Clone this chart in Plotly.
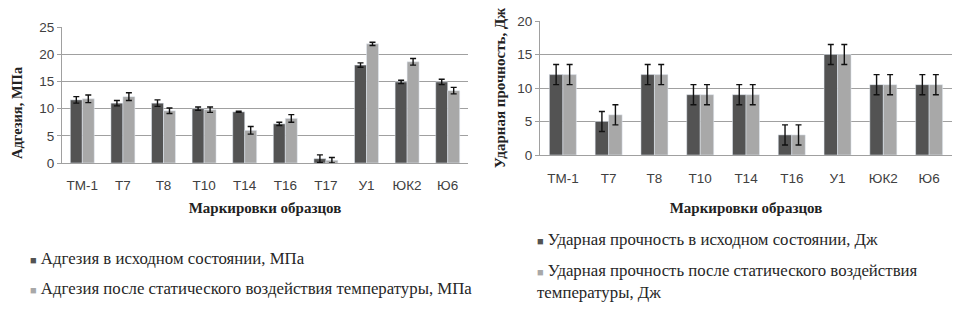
import plotly.graph_objects as go

# Left chart: adhesion
cats_a = ["ТМ-1", "Т7", "Т8", "Т10", "Т14", "Т16", "Т17", "У1", "ЮК2", "Ю6"]
adh_init = [11.6, 11.0, 11.0, 10.0, 9.4, 7.2, 0.8, 18.0, 14.9, 14.9]
adh_init_err = [0.6, 0.5, 0.6, 0.3, 0.1, 0.3, 0.7, 0.4, 0.3, 0.5]
adh_after = [11.8, 12.2, 9.6, 9.8, 6.0, 8.2, 0.5, 21.9, 18.6, 13.3]
adh_after_err = [0.7, 0.7, 0.5, 0.5, 0.7, 0.7, 0.5, 0.3, 0.6, 0.6]

# Right chart: impact strength
cats_u = ["ТМ-1", "Т7", "Т8", "Т10", "Т14", "Т16", "У1", "ЮК2", "Ю6"]
imp_init = [12, 5, 12, 9, 9, 3, 15, 10.5, 10.5]
imp_init_err = [1.5, 1.5, 1.5, 1.5, 1.5, 1.5, 1.5, 1.5, 1.5]
imp_after = [12, 6, 12, 9, 9, 3, 15, 10.5, 10.5]
imp_after_err = [1.5, 1.5, 1.5, 1.5, 1.5, 1.5, 1.5, 1.5, 1.5]

legend_a = ["Адгезия в исходном состоянии, МПа",
            "Адгезия после статического воздействия температуры, МПа"]
legend_u = ["Ударная прочность в исходном состоянии, Дж",
            "Ударная прочность после статического воздействия<br>температуры, Дж"]

DARK = "#535353"
LIGHT = "#a8a8a8"
GRID = "#a0a0a0"
SERIF = "Liberation Serif, Times New Roman, serif"
SANS = "Liberation Sans, Arial, sans-serif"

# page body has an 8px margin: size the figure to fit the window
OFF = 8
W, H = 975 - 2 * OFF, 310 - 2 * OFF
def px(x):
    return (x - OFF) / W
def py(y):
    return 1 - (y - OFF) / H

fig = go.Figure()

def err(v):
    return dict(type="data", array=v, visible=True, color="#111111", thickness=1.4, width=3)

fig.add_trace(go.Bar(x=cats_a, y=adh_init, error_y=err(adh_init_err), marker_color=DARK,
                     xaxis="x", yaxis="y", name=legend_a[0], showlegend=False))
fig.add_trace(go.Bar(x=cats_a, y=adh_after, error_y=err(adh_after_err), marker_color=LIGHT,
                     xaxis="x", yaxis="y", name=legend_a[1], showlegend=False))
fig.add_trace(go.Bar(x=cats_u, y=imp_init, error_y=err(imp_init_err), marker_color=DARK,
                     xaxis="x2", yaxis="y2", name=legend_u[0], showlegend=False))
fig.add_trace(go.Bar(x=cats_u, y=imp_after, error_y=err(imp_after_err), marker_color=LIGHT,
                     xaxis="x2", yaxis="y2", name=legend_u[1], showlegend=False))

# legend rows drawn as annotations (small square + serif text)
leg_font = dict(family=SERIF, size=16.8, color="#262626")
def leg_row(x, y, text, col):
    fig.add_annotation(xref="paper", yref="paper", x=px(x), y=py(y),
                       xanchor="left", yanchor="top", align="left", showarrow=False,
                       text=f'<span style="color:{col};font-size:11px">■</span> {text}',
                       font=leg_font)

leg_row(28, 247, legend_a[0], DARK)
leg_row(28, 277, legend_a[1], LIGHT)
leg_row(535, 228, legend_u[0], DARK)
leg_row(535, 259, legend_u[1], LIGHT)

tickfont = dict(family=SANS, size=13.5, color="#404040")
def tfont(s):
    return dict(family=SERIF, size=s, color="#222222", weight="bold")

# left y-axis title (sits lower than the plot centre in the reference)
fig.add_annotation(xref="paper", yref="paper", x=px(17), y=py(113),
                   xanchor="center", yanchor="middle", showarrow=False, textangle=-90,
                   text="Адгезия, МПа", font=tfont(14.5))

fig.update_layout(
    width=W, height=H,
    margin=dict(l=0, r=0, t=0, b=0),
    paper_bgcolor="white", plot_bgcolor="white",
    barmode="group", bargap=0.41, bargroupgap=0,
    showlegend=False,
    xaxis=dict(domain=[px(62), px(468)], anchor="y", showline=True, linecolor=GRID,
               tickfont=tickfont, ticks="", ticklabelstandoff=10, automargin=False,
               title=dict(text="Маркировки образцов", font=tfont(15), standoff=10)),
    yaxis=dict(domain=[py(163), py(27)], anchor="x", range=[0, 25], dtick=5,
               showline=True, linecolor=GRID, gridcolor=GRID, zeroline=False, automargin=False,
               ticks="outside", ticklen=4, tickcolor=GRID, tickfont=tickfont),
    xaxis2=dict(domain=[px(540), px(952)], anchor="y2", showline=True, linecolor=GRID,
                tickfont=tickfont, ticks="", ticklabelstandoff=11, automargin=False,
                title=dict(text="Маркировки образцов", font=tfont(15), standoff=17)),
    yaxis2=dict(domain=[py(155), py(21)], anchor="x2", range=[0, 20], dtick=5,
                showline=True, linecolor=GRID, gridcolor=GRID, zeroline=False, automargin=False,
                ticks="outside", ticklen=4, tickcolor=GRID, tickfont=tickfont,
                title=dict(text="Ударная прочность, Дж", font=tfont(15), standoff=8)),
)

fig.write_html("out.html")
